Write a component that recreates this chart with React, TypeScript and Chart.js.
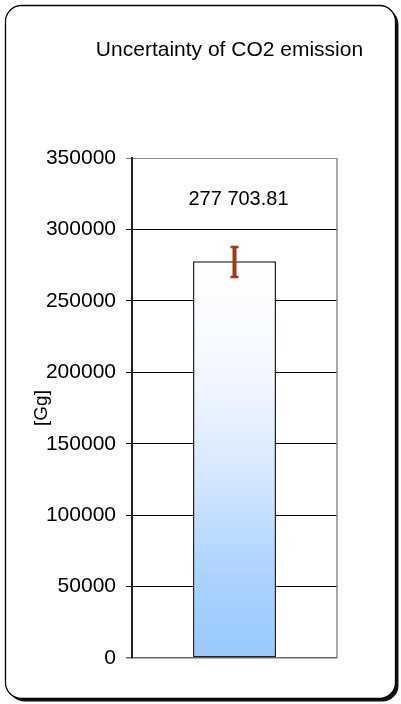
import React, { useEffect, useRef } from "react";
import { Chart, registerables } from "chart.js";

Chart.register(...registerables);

const categories = ["CO2"];
const values = [277703.81];
const errorPlus = [10700];
const errorMinus = [11700];
const valueLabels = ["277 703.81"];
const yTicks = [0, 50000, 100000, 150000, 200000, 250000, 300000, 350000];
const titleText = "Uncertainty of CO2 emission";
const yAxisTitle = "[Gg]";

const FONT = "'Liberation Sans', Arial, sans-serif";

function roundRect(ctx: CanvasRenderingContext2D, x: number, y: number, w: number, h: number, r: number) {
  ctx.beginPath();
  ctx.moveTo(x + r, y);
  ctx.lineTo(x + w - r, y);
  ctx.arcTo(x + w, y, x + w, y + r, r);
  ctx.lineTo(x + w, y + h - r);
  ctx.arcTo(x + w, y + h, x + w - r, y + h, r);
  ctx.lineTo(x + r, y + h);
  ctx.arcTo(x, y + h, x, y + h - r, r);
  ctx.lineTo(x, y + r);
  ctx.arcTo(x, y, x + r, y, r);
  ctx.closePath();
}

const framePlugin = {
  id: "frame",
  beforeDraw(chart: any) {
    const { ctx } = chart;
    ctx.save();
    ctx.fillStyle = "#fff";
    ctx.fillRect(0, 0, chart.width, chart.height);
    // shadow
    ctx.fillStyle = "#111";
    roundRect(ctx, 8.5, 8.5, 390, 693, 16);
    ctx.fill();
    // frame
    ctx.fillStyle = "#fff";
    roundRect(ctx, 5.5, 5.5, 390, 693, 16);
    ctx.fill();
    ctx.strokeStyle = "#000";
    ctx.lineWidth = 1.3;
    ctx.stroke();
    ctx.restore();
  },
};

const overlayPlugin = {
  id: "overlay",
  afterDatasetsDraw(chart: any) {
    const { ctx, chartArea } = chart;
    const meta = chart.getDatasetMeta(0);
    const y = chart.scales.y;
    ctx.save();
    // right border of plot area
    ctx.strokeStyle = "#8a8a8a";
    ctx.lineWidth = 1.5;
    ctx.beginPath();
    ctx.moveTo(chartArea.right, chartArea.top);
    ctx.lineTo(chartArea.right, chartArea.bottom);
    ctx.stroke();
    // error bars
    meta.data.forEach((bar: any, i: number) => {
      const v = values[i];
      const yTop = y.getPixelForValue(v + errorPlus[i]);
      const yBot = y.getPixelForValue(v - errorMinus[i]);
      ctx.strokeStyle = "#a2380c";
      ctx.lineWidth = 4;
      ctx.beginPath();
      ctx.moveTo(bar.x, yTop);
      ctx.lineTo(bar.x, yBot);
      ctx.stroke();
      ctx.lineWidth = 2.5;
      ctx.beginPath();
      ctx.moveTo(bar.x - 4, yTop + 1);
      ctx.lineTo(bar.x + 4, yTop + 1);
      ctx.moveTo(bar.x - 4, yBot - 1);
      ctx.lineTo(bar.x + 4, yBot - 1);
      ctx.stroke();
      // value label
      ctx.fillStyle = "#000";
      ctx.font = `20px ${FONT}`;
      ctx.textAlign = "center";
      ctx.textBaseline = "middle";
      ctx.fillText(valueLabels[i], bar.x + 4, chartArea.top + 41);
    });
    // title
    ctx.fillStyle = "#000";
    ctx.font = `21px ${FONT}`;
    ctx.textAlign = "center";
    ctx.textBaseline = "middle";
    ctx.fillText(titleText, 229.5, 50);
    ctx.restore();
  },
};

export default function App() {
  const canvasRef = useRef<HTMLCanvasElement | null>(null);

  useEffect(() => {
    if (!canvasRef.current) return;
    const chart = new Chart(canvasRef.current, {
      type: "bar",
      data: {
        labels: categories,
        datasets: [
          {
            data: values,
            backgroundColor: (c: any) => {
              const ch = c.chart;
              const area = ch.chartArea;
              if (!area) return "#9dcbff";
              const top = ch.scales.y.getPixelForValue(values[c.dataIndex ?? 0]);
              const g = ch.ctx.createLinearGradient(0, top, 0, area.bottom);
              g.addColorStop(0, "#ffffff");
              g.addColorStop(0.3, "#f2f7ff");
              g.addColorStop(0.55, "#d4e6ff");
              g.addColorStop(0.8, "#aad2ff");
              g.addColorStop(1, "#99c9ff");
              return g;
            },
            borderColor: "#222222",
            borderWidth: 1.5,
            borderSkipped: false,
            barPercentage: 0.405,
            categoryPercentage: 1,
          },
        ],
      },
      options: {
        animation: false,
        responsive: false,
        maintainAspectRatio: false,
        layout: { padding: { top: 158, bottom: 46, right: 64, left: 0 } },
        plugins: {
          legend: { display: false },
          tooltip: { enabled: false },
          title: { display: false },
        },
        scales: {
          x: { display: false },
          y: {
            min: 0,
            max: 350000,
            afterFit: (s: any) => {
              s.width = 132;
            },
            afterBuildTicks: (s: any) => {
              s.ticks = yTicks.map((v) => ({ value: v }));
            },
            ticks: {
              color: "#000",
              font: { family: FONT, size: 21 },
              padding: 10,
              callback: (v: any) => String(v),
            },
            grid: {
              color: (c: any) =>
                c.tick && c.tick.value === 0 ? "#6a6a6a" : c.tick && c.tick.value === 350000 ? "#8a8a8a" : "#000000",
              tickColor: (c: any) =>
                c.tick && c.tick.value === 0 ? "#6a6a6a" : c.tick && c.tick.value === 350000 ? "#8a8a8a" : "#000000",
              tickLength: 6,
              lineWidth: (c: any) => (c.tick && c.tick.value === 0 ? 1.5 : 1),
            },
            border: { color: "#222", width: 2 },
            title: {
              display: true,
              text: yAxisTitle,
              color: "#000",
              font: { family: FONT, size: 19 },
              padding: { top: 30, bottom: 0 },
            },
          },
        },
      },
      plugins: [framePlugin, overlayPlugin],
    });
    return () => chart.destroy();
  }, []);

  return (
    <div style={{ position: "fixed", left: 0, top: 0, width: 401, height: 704 }}>
      <canvas
        ref={canvasRef}
        width={401}
        height={704}
        style={{ display: "block", width: 401, height: 704 }}
      />
    </div>
  );
}
